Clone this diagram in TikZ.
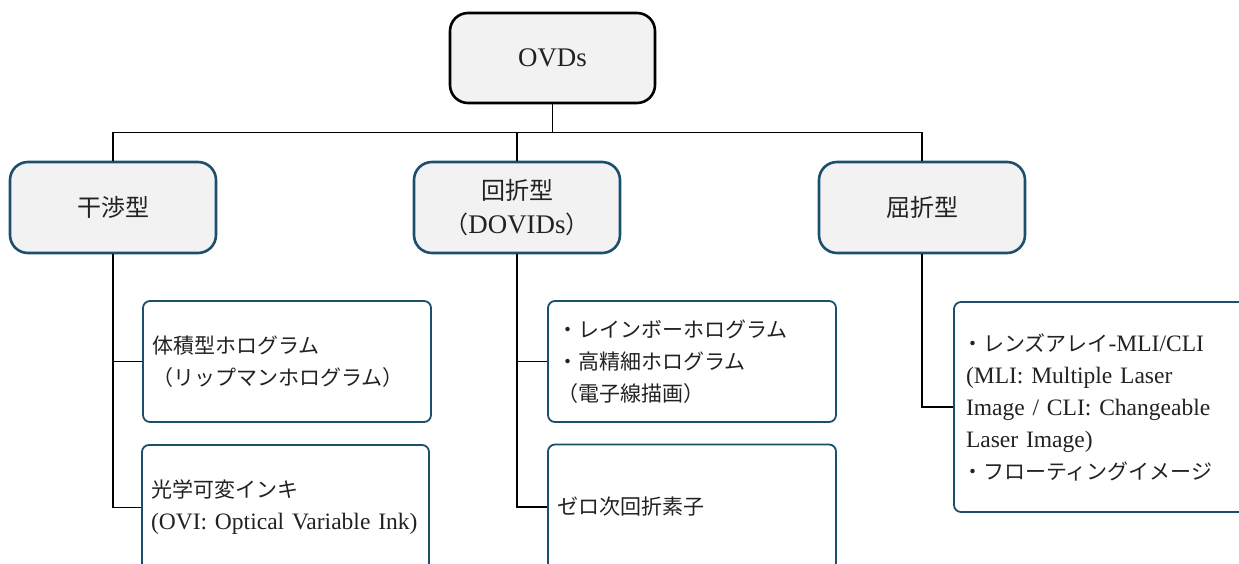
\documentclass[tikz,border=0pt]{standalone}
\usepackage{fontspec}
\setmainfont{Liberation Serif}[Scale=1.12]
\newfontfamily\jp{Noto Sans CJK JP}
\usetikzlibrary{calc}
\definecolor{boxteal}{HTML}{1B4F6B}
\definecolor{boxgray}{HTML}{F2F2F2}
\definecolor{inkgray}{HTML}{222222}
\begin{document}
\begin{tikzpicture}[x=1pt,y=-1pt,
  topbox/.style={draw=black, line width=2.6pt, fill=boxgray, rounded corners=18pt,
    minimum width=205pt, minimum height=90pt, align=center, text=inkgray,
    font=\fontsize{24}{30}\selectfont},
  catbox/.style={draw=boxteal, line width=2.6pt, fill=boxgray, rounded corners=18pt,
    minimum width=206pt, minimum height=91pt, align=center, text=inkgray,
    font=\fontsize{24}{34}\selectfont},
  leafbox/.style={draw=boxteal, line width=1.8pt, fill=white, rounded corners=7pt,
    align=left, inner xsep=9pt, text=inkgray,
    font=\fontsize{21}{32}\selectfont},
  conn/.style={draw=black, line width=1.2pt}]
\useasboundingbox (0,0) rectangle (1239,563);

% top
\node[topbox] (ovd) at (552.5,58) {OVDs};

% categories
\node[catbox] (c1) at (113,207.5) {\jp 干渉型};
\node[catbox] (c2) at (517,207.5) {{\jp 回折型}\\{\jp （}DOVIDs{\jp ）}};
\node[catbox] (c3) at (922,207.5) {\jp 屈折型};

% leaves
\node[leafbox, text width=270pt, minimum height=121pt] (l1) at (287,361.5)
  {{\jp 体積型ホログラム}\\{\jp （リップマンホログラム）}};
\node[leafbox, text width=269pt, minimum height=125pt] (l2) at (285.5,507.5)
  {{\jp 光学可変インキ}\\(OVI: Optical Variable Ink)};
\node[leafbox, text width=270pt, minimum height=121pt] (m1) at (692,361.5)
  {{\jp ・レインボーホログラム}\\{\jp ・高精細ホログラム}\\{\jp （電子線描画）}};
\node[leafbox, text width=270pt, minimum height=125pt] (m2) at (692,507)
  {{\jp ゼロ次回折素子}};
\node[leafbox, text width=279pt, minimum height=210pt, inner xsep=8pt] (r1) at (1101.5,407)
  {{\jp ・レンズアレイ}-MLI/CLI\\
   \hspace*{4pt}(MLI: Multiple Laser\\
   \hspace*{4pt}Image / CLI: Changeable\\
   \hspace*{4pt}Laser Image)\\
   {\jp ・フローティングイメージ}};

% connectors
\coordinate (bus) at ($(ovd.south)!0.5!(c2.north)$);
\draw[conn] (ovd.south) -- (ovd.south |- bus);
\draw[conn] (c1.north) -- (c1.north |- bus) -- (c3.north |- bus) -- (c3.north);
\draw[conn] (c2.north) -- (c2.north |- bus);

\draw[conn] (c1.south) |- (l1.west);
\draw[conn] (c1.south) |- (l2.west);
\draw[conn] (c2.south) |- (m1.west);
\draw[conn] (c2.south) |- (m2.west);
\draw[conn] (c3.south) |- (r1.west);
\end{tikzpicture}
\end{document}
